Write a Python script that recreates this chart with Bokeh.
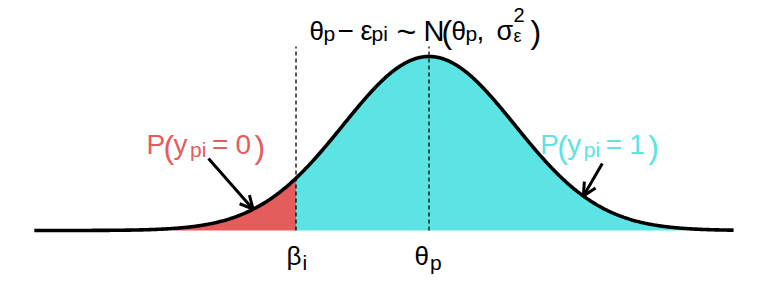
import numpy as np
from bokeh.plotting import figure
from bokeh.models import Range1d, Arrow, OpenHead, ColumnDataSource
from bokeh.embed import file_html
from bokeh.resources import INLINE
from bokeh.core.properties import value

# ---- model values (theta_p at 0, sigma = 1) ----
theta_p = 0.0
sigma_eps = 1.0
beta_i = -1.55
curve_limits = [-4.6, 3.55]
fill_limits = [-2.97, 2.97]
dash_top = 1.057
arrow_head_x = [-2.05, 1.80]
arrow_tail_x = [-2.57, 2.02]
arrow_tail_y = [0.414, 0.385]
fill_colors = ["#E45C5C", "#5CE4E4"]

# layout helpers: picture pixel -> data units
PX0, PXS, PY0, PYS = 428.5, 85.8, 230.0, 174.0
TY = -8.5  # text vertical correction
def dx(px):
    return (px - PX0) / PXS
def dy(py):
    return (PY0 - py) / PYS

def dens(x):
    return np.exp(-0.5 * ((np.asarray(x) - theta_p) / sigma_eps) ** 2)

p = figure(width=768, height=288, output_backend="svg", toolbar_location=None,
           x_range=Range1d(dx(0), dx(768)), y_range=Range1d(dy(288), dy(0)),
           min_border=0, min_border_left=0, min_border_right=0,
           min_border_top=0, min_border_bottom=0)
p.xaxis.visible = False
p.yaxis.visible = False
p.grid.visible = False
p.outline_line_color = None
p.background_fill_color = "white"
p.border_fill_color = "white"

# fills
xr = np.linspace(fill_limits[0], beta_i, 200)
xc = np.linspace(beta_i, fill_limits[1], 400)
p.varea(x=xr, y1=np.zeros_like(xr), y2=dens(xr), fill_color=fill_colors[0])
p.varea(x=xc, y1=np.zeros_like(xc), y2=dens(xc), fill_color=fill_colors[1])

# curve
xl = np.linspace(curve_limits[0], curve_limits[1], 800)
p.line(xl, dens(xl), line_color="black", line_width=3.6)

# dashed lines
p.segment(x0=[beta_i, theta_p], y0=[0, 0], x1=[beta_i, theta_p], y1=[dash_top, dash_top],
          line_color="black", line_width=1.3, line_dash="4 3")

# arrows
for hx, tx, ty in zip(arrow_head_x, arrow_tail_x, arrow_tail_y):
    p.add_layout(Arrow(x_start=tx, y_start=ty, x_end=hx, y_end=float(dens(hx)),
                       line_width=3, line_color="black",
                       end=OpenHead(size=13, line_width=3, line_color="black")))

# texts: (text, px, py, size, color)
R, C, K = fill_colors[0], fill_colors[1], "black"
pieces = [
    # title
    ("θ", 309, 38.5, 26, K), ("p", 323, 41, 21, K), ("−", 337, 38.5, 28, K),
    ("ε", 360, 38.5, 27, K), ("pi", 371, 41, 21, K), ("~", 396, 38.5, 34, K),
    ("N", 423, 38.5, 29, K), ("(", 441, 39.6, 32, K), ("θ", 451, 38.5, 26, K),
    ("p", 465, 41, 21, K), (",", 476, 38.5, 28, K), ("σ", 496, 38.5, 27, K),
    ("2", 513, 23, 20, K), ("ε", 513, 43.5, 18, K), (")", 530, 39.6, 32, K),
    # axis-position labels
    ("β", 286, 264, 26, K), ("i", 302, 270, 21, K),
    ("θ", 414, 264, 26, K), ("p", 429.5, 270, 21, K),
]
for off, col, digit in [(0.0, R, "0"), (393.7, C, "1")]:
    pieces += [
        ("P", 146 + off, 152, 28, col), ("(", 163 + off, 155, 32, col),
        ("y", 173 + off, 152, 28, col), ("pi", 189.5 + off, 157, 21, col),
        ("=", 211.5 + off, 152, 28, col), (digit, 235 + off, 152, 28, col),
        (")", 254 + off, 155, 32, col),
    ]

src = ColumnDataSource(dict(
    x=[dx(t[1]) for t in pieces], y=[dy(t[2] + TY) for t in pieces],
    text=[t[0] for t in pieces], size=["%dpx" % t[3] for t in pieces],
    color=[t[4] for t in pieces]))
p.text(x="x", y="y", text="text", source=src, text_font_size="size",
       text_color="color", text_align="left", text_baseline="alphabetic",
       text_font=value("Liberation Sans"))

open("out.html", "w").write(file_html(p, INLINE))
